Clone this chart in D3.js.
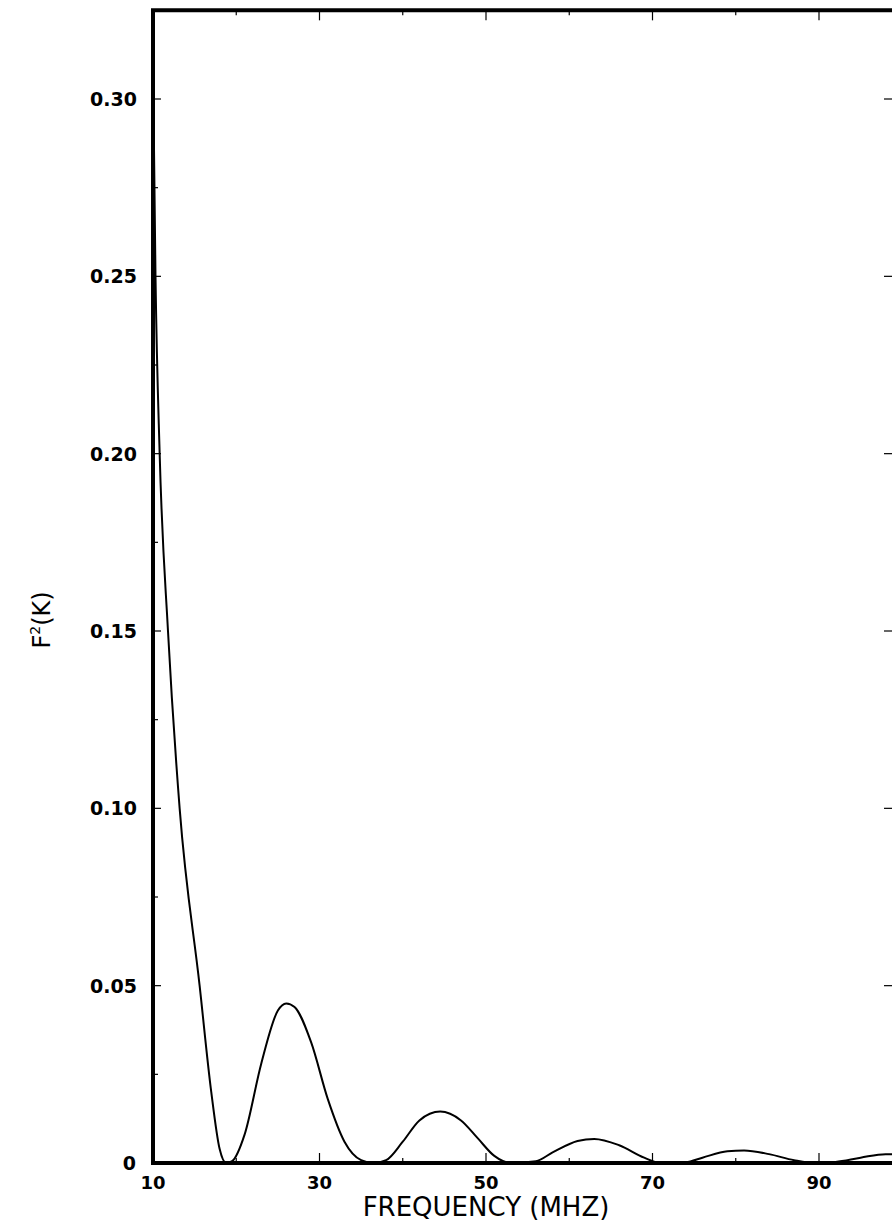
<!DOCTYPE html><html><head><meta charset="utf-8"><script src="https://d3js.org/d3.v7.min.js"></script>
<style>body{margin:0;background:#fff}text{font-family:"DejaVu Sans",sans-serif;fill:#000}</style></head><body><svg id="c" width="892" height="1222"></svg>
<script>
const freq=[10,10.3,10.8,11.8,13.2,15.6,17,18,18.8,19.5,21,23,25,26,27,29,31,33,35,36.5,38,40,42,44.5,47,49,51,53,56,58,61,63,66,69,71,74,76,79,81,84,87,89.5,92,95,98,100];
const f2=[0.31,0.25,0.20,0.15,0.10,0.05,0.02,0.004,0,0.0005,0.008,0.028,0.043,0.045,0.044,0.034,0.018,0.006,0.0008,0,0.0008,0.006,0.012,0.0145,0.012,0.007,0.002,0,0.0005,0.003,0.0062,0.0068,0.005,0.0015,0,0.0002,0.0015,0.0033,0.0035,0.0025,0.0008,0,0.0003,0.0015,0.0025,0.0025];
const xTicks=[10,30,50,70,90];
const yTicks=[0,0.05,0.10,0.15,0.20,0.25,0.30];
const svg=d3.select("#c");
const x=d3.scaleLinear().domain([10,90]).range([153,819]);
const y=d3.scaleLinear().domain([0,0.30]).range([1163,99]);
const L=153,R=900,T=y(0.325),B=1163;
const g=svg.append("g");
d3.range(10,100,10).forEach(v=>{const maj=xTicks.includes(v);g.append("line").attr("x1",x(v)).attr("x2",x(v)).attr("y1",B).attr("y2",B-(maj?10:5)).attr("stroke","#000").attr("stroke-width",1.2);
 g.append("line").attr("x1",x(v)).attr("x2",x(v)).attr("y1",T).attr("y2",T+(maj?10:5)).attr("stroke","#000").attr("stroke-width",1.2);});
d3.range(0,0.326,0.025).forEach(v=>{const maj=Math.abs(v*20-Math.round(v*20))<1e-6;g.append("line").attr("x1",L).attr("x2",L+(maj?8:5)).attr("y1",y(v)).attr("y2",y(v)).attr("stroke","#000").attr("stroke-width",1.2);
 if(maj)g.append("line").attr("x1",884).attr("x2",892).attr("y1",y(v)).attr("y2",y(v)).attr("stroke","#000").attr("stroke-width",1.2);});
g.append("path").attr("d",`M${R},${T}H${L}V${B}H${R}`).attr("fill","none").attr("stroke","#000").attr("stroke-width",4);
xTicks.forEach(v=>g.append("text").attr("x",x(v)).attr("y",1189).attr("text-anchor","middle").attr("font-size",18).attr("font-weight","bold").text(v));
yTicks.forEach(v=>g.append("text").attr("x",v===0?136:137).attr("y",y(v)+7).attr("text-anchor","end").attr("font-size",19).attr("font-weight","bold").text(v===0?"0":v.toFixed(2)));
g.append("text").attr("x",486).attr("y",1216).attr("text-anchor","middle").attr("font-size",26).text("FREQUENCY (MHZ)");
const yl=g.append("text").attr("transform","translate(50,620) rotate(-90)").attr("text-anchor","middle").attr("font-size",24);
yl.append("tspan").text("F");yl.append("tspan").attr("dy",-10).attr("font-size",14).text("2");yl.append("tspan").attr("dy",10).text("(K)");
const line=d3.line().x((d,i)=>x(freq[i])).y(d=>y(d)).curve(d3.curveMonotoneX);
g.append("path").attr("d",line(f2)).attr("fill","none").attr("stroke","#000").attr("stroke-width",2);
</script></body></html>
